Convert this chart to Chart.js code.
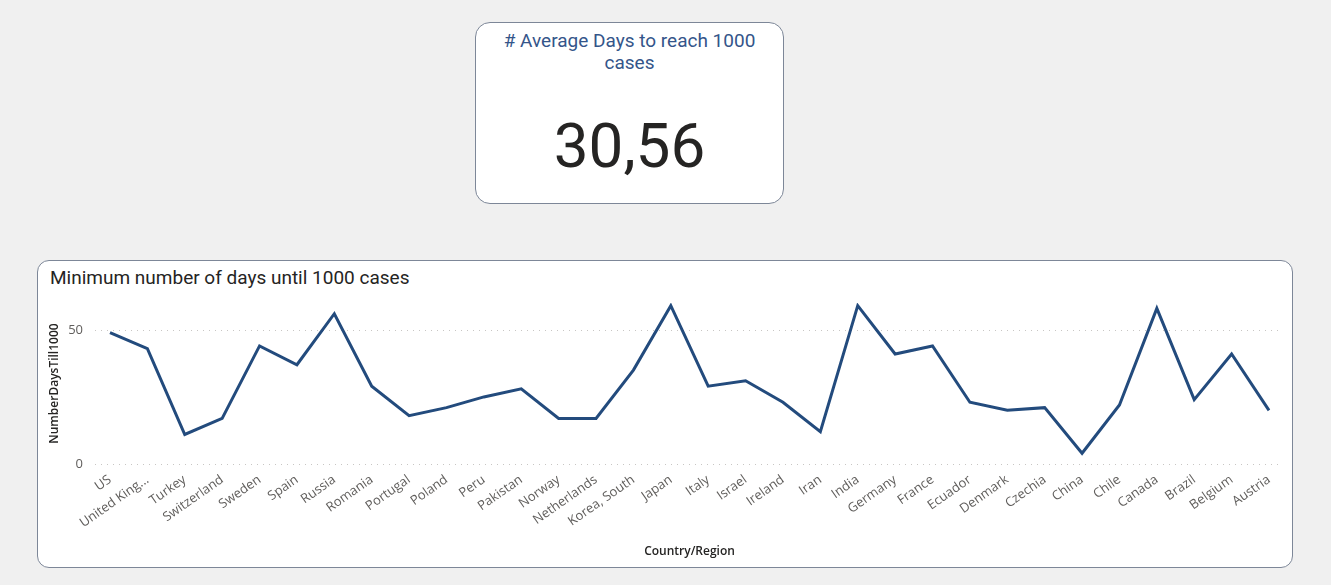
<!DOCTYPE html>
<html>
<head>
<meta charset="utf-8">
<script src="https://cdn.jsdelivr.net/npm/chart.js@4/dist/chart.umd.min.js"></script>
<style>
  html, body { margin: 0; padding: 0; background: #f0f0f0; width: 1331px; height: 585px; overflow: hidden; }
  .card {
    position: absolute; left: 475px; top: 22px; width: 307px; height: 180px;
    background: #fff; border: 1px solid #7d8798; border-radius: 15px;
  }
  .card-title {
    position: absolute; left: 475px; top: 30px; width: 309px; text-align: center;
    font-family: Roboto, sans-serif; font-size: 19px; line-height: 22px; color: #34558a;
  }
  .card-value {
    position: absolute; left: 475px; top: 106px; width: 309px; text-align: center;
    font-family: Roboto, sans-serif; font-size: 62px; line-height: 80px; color: #252423;
  }
  .panel {
    position: absolute; left: 37px; top: 260px; width: 1254px; height: 306px;
    background: #fff; border: 1px solid #7d8798; border-radius: 12px;
  }
  .panel-title {
    position: absolute; left: 50px; top: 267px;
    font-family: Roboto, sans-serif; font-size: 19px; line-height: 22px; color: #252423;
  }
  .chartbox { position: absolute; left: 37px; top: 260px; width: 1256px; height: 308px; }
</style>
</head>
<body>
<div class="card"></div>
<div class="card-title"># Average Days to reach 1000<br>cases</div>
<div class="card-value" id="avg"></div>

<div class="panel"></div>
<div class="panel-title">Minimum number of days until 1000 cases</div>
<div class="chartbox"><canvas id="chart"></canvas></div>

<script>
// categories and values
const countries = [
  'US', 'United Kingdom', 'Turkey', 'Switzerland', 'Sweden', 'Spain', 'Russia', 'Romania',
  'Portugal', 'Poland', 'Peru', 'Pakistan', 'Norway', 'Netherlands', 'Korea, South', 'Japan',
  'Italy', 'Israel', 'Ireland', 'Iran', 'India', 'Germany', 'France', 'Ecuador',
  'Denmark', 'Czechia', 'China', 'Chile', 'Canada', 'Brazil', 'Belgium', 'Austria'
];
const daysTill1000 = [
  49, 43, 11, 17, 44, 37, 56, 29,
  18, 21, 25, 28, 17, 17, 35, 59,
  29, 31, 23, 12, 59, 41, 44, 23,
  20, 21, 4, 22, 58, 24, 41, 20
];
const yTickValues = [0, 50];
const yMax = 60;

const avg = daysTill1000.reduce((a, b) => a + b, 0) / daysTill1000.length;
document.getElementById('avg').textContent = avg.toFixed(2).replace('.', ',');

const TICK_FONT = { family: "'Open Sans', sans-serif", size: 13 };
const AXIS_TITLE_FONT = { family: "'Open Sans', sans-serif", size: 12, weight: '600' };

// dotted horizontal gridlines, a bit wider than the plot like in Power BI
const dottedGrid = {
  id: 'dottedGrid',
  beforeDatasetsDraw(chart) {
    const { ctx, chartArea, scales } = chart;
    ctx.save();
    ctx.strokeStyle = '#c8c6c4';
    ctx.lineWidth = 1;
    ctx.setLineDash([1, 5]);
    scales.y.ticks.forEach(t => {
      const y = Math.round(scales.y.getPixelForValue(t.value)) + 0.5;
      ctx.beginPath();
      ctx.moveTo(chartArea.left - 15, y);
      ctx.lineTo(chartArea.right + 11, y);
      ctx.stroke();
    });
    ctx.restore();
  }
};

new Chart(document.getElementById('chart'), {
  type: 'line',
  data: {
    labels: countries,
    datasets: [{
      data: daysTill1000,
      borderColor: '#234b7d',
      borderWidth: 3,
      pointRadius: 0,
      tension: 0,
      borderJoinStyle: 'miter',
    }],
  },
  options: {
    responsive: true,
    maintainAspectRatio: false,
    animation: false,
    layout: { padding: { top: 43, right: 24, bottom: 0, left: 0 } },
    scales: {
      x: {
        grid: { display: false },
        border: { display: false },
        ticks: {
          color: '#605e5c',
          font: TICK_FONT,
          minRotation: 35,
          maxRotation: 35,
          autoSkip: false,
          padding: 0,
          callback(v) {
            const s = this.getLabelForValue(v);
            return s.length > 12 ? s.slice(0, 11) + '...' : s;
          },
        },
        title: {
          display: true,
          text: 'Country/Region',
          color: '#252423',
          font: AXIS_TITLE_FONT,
          padding: { top: 4, bottom: 9 },
        },
        afterFit(scale) { scale.height = 104; },
      },
      y: {
        min: 0,
        max: yMax,
        grid: { display: false },
        border: { display: false },
        afterBuildTicks(scale) { scale.ticks = yTickValues.map(v => ({ value: v })); },
        ticks: { color: '#605e5c', font: TICK_FONT, padding: 19 },
        title: {
          display: true,
          text: 'NumberDaysTill1000',
          color: '#252423',
          font: AXIS_TITLE_FONT,
          padding: { top: 10, bottom: 0 },
        },
        afterFit(scale) { scale.width = 73; },
      },
    },
    plugins: {
      legend: { display: false },
      tooltip: { enabled: false },
    },
  },
  plugins: [dottedGrid],
});
</script>
</body>
</html>
